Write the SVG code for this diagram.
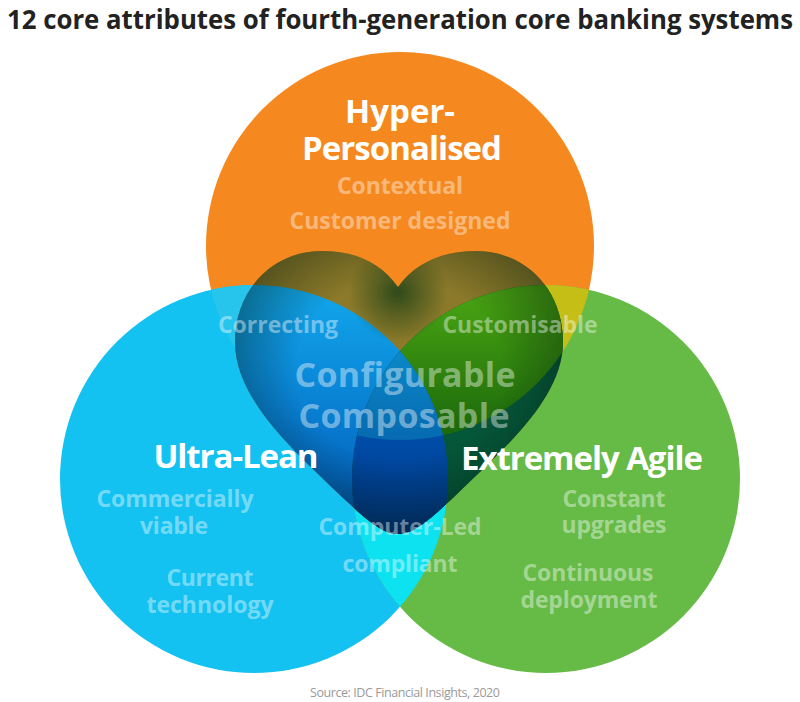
<svg xmlns="http://www.w3.org/2000/svg" width="800" height="702" viewBox="0 0 800 702">
<defs>
  <clipPath id="cO"><circle cx="400" cy="246" r="194"/></clipPath>
  <clipPath id="cB"><circle cx="254" cy="479" r="194"/></clipPath>
  <clipPath id="cG"><circle cx="546" cy="479" r="194"/></clipPath>
  <clipPath id="cH"><path id="heartPath" d="M398 287 C380 262 355 251 322 251 C272 251 235 290 235 342 C235 400 296 452 342 497 C369 522 383 534 398 534 C413 534 427 522 454 497 C500 452 563 400 563 342 C563 290 526 251 476 251 C443 251 416 262 398 287 Z"/></clipPath>
  <linearGradient id="gBlue" gradientUnits="userSpaceOnUse" x1="0" y1="280" x2="0" y2="530">
    <stop offset="0" stop-color="#12AAEE"/>
    <stop offset="1" stop-color="#0058B8"/>
  </linearGradient>
  <linearGradient id="gGreenTop" gradientUnits="userSpaceOnUse" x1="0" y1="290" x2="0" y2="430">
    <stop offset="0" stop-color="#4AA612"/>
    <stop offset="1" stop-color="#1C6A0C"/>
  </linearGradient>
  <linearGradient id="gLensTop" gradientUnits="userSpaceOnUse" x1="0" y1="350" x2="0" y2="440">
    <stop offset="0" stop-color="#0B88C8"/>
    <stop offset="1" stop-color="#066AB0"/>
  </linearGradient>
  <linearGradient id="gLensBot" gradientUnits="userSpaceOnUse" x1="0" y1="430" x2="0" y2="534">
    <stop offset="0" stop-color="#004EA8"/>
    <stop offset="1" stop-color="#003A92"/>
  </linearGradient>
  <radialGradient id="gVig" cx="0.5" cy="0.42" r="0.62">
    <stop offset="0.5" stop-color="#00140A" stop-opacity="0"/>
    <stop offset="1" stop-color="#00180C" stop-opacity="0.55"/>
  </radialGradient>
  <radialGradient id="gNotch" gradientUnits="userSpaceOnUse" cx="398" cy="292" r="50">
    <stop offset="0" stop-color="#103A14" stop-opacity="0.75"/>
    <stop offset="1" stop-color="#103A14" stop-opacity="0"/>
  </radialGradient>
</defs>
<style>
  .t{font-family:"Open Sans","Liberation Sans",sans-serif;font-weight:700;text-anchor:middle}
  .h{fill:#ffffff;font-size:33px}
  .a{fill:#ffffff;fill-opacity:0.42;font-size:23px}
  .big{fill:#ffffff;fill-opacity:0.42;font-size:34px}
</style>
<rect width="800" height="702" fill="#ffffff"/>

<g id="orange-circle"><circle cx="400" cy="246" r="194" fill="#F5891F"/></g>
<g id="blue-circle"><circle cx="254" cy="479" r="194" fill="#13C2F1"/></g>
<g id="green-circle"><circle cx="546" cy="479" r="194" fill="#66BA46"/></g>

<g id="overlaps">
  <g clip-path="url(#cO)"><circle cx="254" cy="479" r="194" fill="#27C4EC"/></g>
  <g clip-path="url(#cO)"><circle cx="546" cy="479" r="194" fill="#C4BE17"/></g>
  <g clip-path="url(#cB)"><circle cx="546" cy="479" r="194" fill="#0DE2F0"/></g>
</g>

<g id="heart" clip-path="url(#cH)">
  <rect x="230" y="245" width="340" height="295" fill="#8C7A2A"/>
  <g clip-path="url(#cB)"><rect x="230" y="245" width="340" height="295" fill="url(#gBlue)"/></g>
  <g clip-path="url(#cG)"><rect x="230" y="245" width="340" height="295" fill="#05573A"/></g>
  <g clip-path="url(#cG)"><g clip-path="url(#cO)"><rect x="230" y="245" width="340" height="295" fill="url(#gGreenTop)"/></g></g>
  <g clip-path="url(#cG)"><g clip-path="url(#cB)"><rect x="230" y="245" width="340" height="295" fill="url(#gLensBot)"/></g></g>
  <g clip-path="url(#cG)"><g clip-path="url(#cB)"><g clip-path="url(#cO)"><rect x="230" y="245" width="340" height="295" fill="url(#gLensTop)"/></g></g></g>
  <rect x="230" y="245" width="340" height="295" fill="url(#gNotch)"/>
  <rect x="233" y="249" width="332" height="287" fill="url(#gVig)"/>
</g>

<g id="title"><text class="t" x="400" y="29" font-size="26" fill="#222222" textLength="786" lengthAdjust="spacingAndGlyphs">12 core attributes of fourth-generation core banking systems</text></g>

<g id="hyper-personalised-labels">
  <text class="t h" x="400" y="123">Hyper-</text>
  <text class="t h" x="402" y="160" textLength="200">Personalised</text>
  <text class="t a" x="400" y="194" textLength="126">Contextual</text>
  <text class="t a" x="400" y="229" textLength="221">Customer designed</text>
</g>

<g id="overlap-labels">
  <text class="t a" x="278" y="333" textLength="120">Correcting</text>
  <text class="t a" x="520" y="333" textLength="155">Customisable</text>
  <text class="t big" x="405" y="387" textLength="221">Configurable</text>
  <text class="t big" x="404" y="428" textLength="211">Composable</text>
  <text class="t a" x="400" y="535" textLength="163">Computer-Led</text>
  <text class="t a" x="400" y="572" textLength="115">compliant</text>
</g>

<g id="ultra-lean-labels">
  <text class="t h" x="236" y="468" textLength="165">Ultra-Lean</text>
  <text class="t a" x="175" y="507" textLength="157">Commercially</text>
  <text class="t a" x="174" y="534" textLength="68">viable</text>
  <text class="t a" x="210" y="586" textLength="87">Current</text>
  <text class="t a" x="210" y="613" textLength="127">technology</text>
</g>

<g id="extremely-agile-labels">
  <text class="t h" x="582" y="470" textLength="242">Extremely Agile</text>
  <text class="t a" x="614" y="507" textLength="103">Constant</text>
  <text class="t a" x="614" y="533" textLength="105">upgrades</text>
  <text class="t a" x="588" y="581" textLength="131">Continuous</text>
  <text class="t a" x="589" y="608" textLength="137">deployment</text>
</g>

<g id="source"><text x="405" y="697" font-family="'Open Sans','Liberation Sans',sans-serif" font-size="12.5" fill="#9A9A9A" text-anchor="middle" textLength="190">Source: IDC Financial Insights, 2020</text></g>
</svg>
